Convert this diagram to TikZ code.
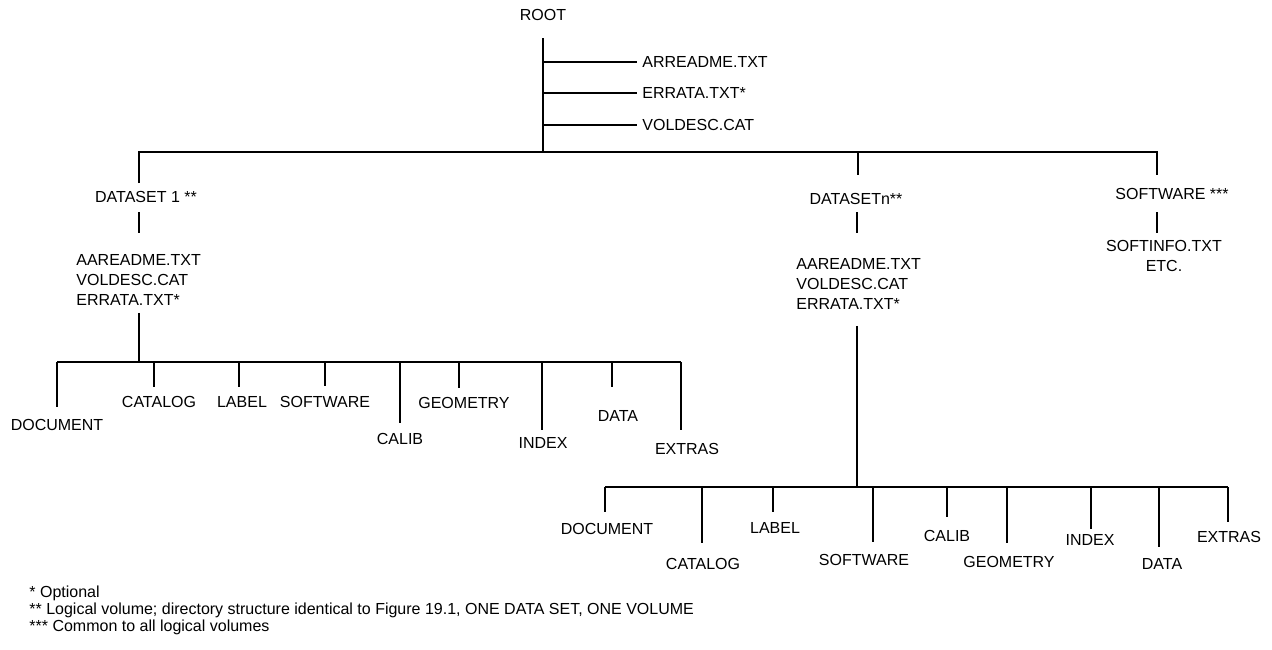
\documentclass[tikz,border=0pt]{standalone}
\usepackage{fontspec}
\setmainfont{Liberation Sans}
\usepackage{tikz}
\usetikzlibrary{calc}
\usetikzlibrary{positioning}

\newcommand{\lblfont}{\fontsize{8}{10}\selectfont}
\newcommand{\notefont}{\fontsize{8}{8.75}\selectfont}

\tikzset{
  wire/.style={line width=1pt},
  lbl/.style={font=\lblfont, inner sep=0pt},
  filelist/.style={lbl, align=left, anchor=west},
  note/.style={font=\notefont, inner sep=0pt, anchor=base west}
}

\begin{document}
\begin{tikzpicture}[x=0.5pt, y=-0.5pt]
  \useasboundingbox (0,0) rectangle (1272,649);

  % root and its own files
  \node[lbl] (root) at (543,15) {ROOT};
  \coordinate (roottop) at (543,38);
  \coordinate (mainbus) at (543,152);
  \draw[wire] (roottop) -- (mainbus);
  \foreach \n/\t/\y in {arreadme/ARREADME.TXT/62, errata/ERRATA.TXT*/93, voldesc/VOLDESC.CAT/125} {
    \node[lbl, anchor=west] (\n) at (642,\y) {\t};
    \draw[wire] (roottop |- \n.west) -- ([xshift=-2.5pt]\n.west);
  }

  % the three branches below the root
  \node[lbl] (dsone) at (146,197) {DATASET 1 **};
  \node[lbl] (dsn) at (856,199) {DATASETn**};
  \node[lbl] (sw) at (1172,194) {SOFTWARE ***};
  \coordinate (dsone-end) at (139,183);
  \coordinate (dsn-end) at (858,175);
  \coordinate (sw-end) at (1157,175);
  \draw[wire] (dsone-end) |- (mainbus) -| (sw-end);
  \draw[wire] (dsn-end |- mainbus) -- (dsn-end);

  \node[filelist] (dsonefiles) at (76,280) {AAREADME.TXT\\VOLDESC.CAT\\ERRATA.TXT*};
  \node[filelist] (dsnfiles) at (796,284) {AAREADME.TXT\\VOLDESC.CAT\\ERRATA.TXT*};
  \node[lbl, align=center] (swfiles) at (1164,256) {SOFTINFO.TXT\\ETC.};
  \foreach \n/\x in {dsone/139, dsn/857, sw/1157}
    \draw[wire] (\x,212) -- (\x,233);

  % dataset 1
  \coordinate (abus) at (139,362);
  \draw[wire] (dsonefiles.south -| abus) ++(0,7) -- (abus);
  \foreach \n/\t/\lx/\le/\tx/\ty in {doc/DOCUMENT/57/407/57/425, cat/CATALOG/154/387/159/402,
      lab/LABEL/239/387/242/402, soft/SOFTWARE/325/386/325/402, cal/CALIB/400/423/400/439,
      geo/GEOMETRY/459/388/464/403, idx/INDEX/542/430/543/443, dat/DATA/612/387/618/416,
      ext/EXTRAS/681/430/687/449} {
    \node[lbl] (a\n) at (\tx,\ty) {\t};
    \coordinate (a\n-end) at (\lx,\le);
    \draw[wire] (a\n-end |- abus) -- (a\n-end);
  }
  \draw[wire] (adoc-end |- abus) -- (aext-end |- abus);

  % dataset n
  \coordinate (bbus) at (857,487);
  \draw[wire] (dsnfiles.south -| bbus) ++(0,16) -- (bbus);
  \foreach \n/\t/\lx/\le/\tx/\ty in {doc/DOCUMENT/605/512/607/529, cat/CATALOG/702/543/703/564,
      lab/LABEL/773/512/775/528, soft/SOFTWARE/873/542/864/560, cal/CALIB/947/517/947/536,
      geo/GEOMETRY/1007/543/1009/562, idx/INDEX/1091/529/1090/540, dat/DATA/1159/547/1162/564,
      ext/EXTRAS/1228/522/1229/537} {
    \node[lbl] (b\n) at (\tx,\ty) {\t};
    \coordinate (b\n-end) at (\lx,\le);
    \draw[wire] (b\n-end |- bbus) -- (b\n-end);
  }
  \draw[wire] (bdoc-end |- bbus) -- (bext-end |- bbus);

  % footnotes
  \node[note] (note1) at (29,597) {* Optional};
  \node[note] (note2) at (29,614) {** Logical volume; directory structure identical to Figure 19.1, ONE DATA SET, ONE VOLUME};
  \node[note] (note3) at (29,631) {*** Common to all logical volumes};
\end{tikzpicture}
\end{document}
